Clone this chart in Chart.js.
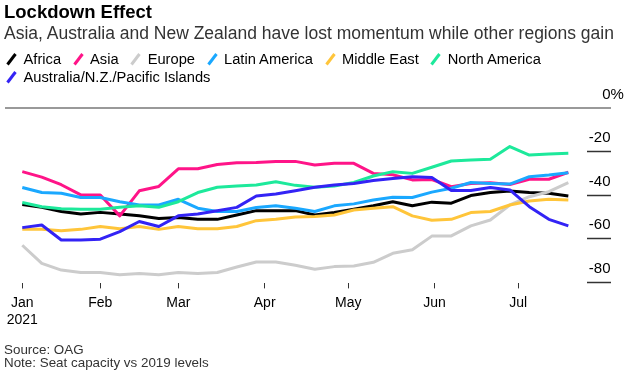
<!DOCTYPE html>
<html><head><meta charset="utf-8">
<script src="https://cdn.jsdelivr.net/npm/chart.js@4"></script>
<style>
html,body{margin:0;padding:0;background:#fff;}
body{width:631px;height:374px;position:relative;overflow:hidden;font-family:'Liberation Sans',Arial,Helvetica,sans-serif;}
#c{position:absolute;left:0;top:0;width:631px;height:374px;}
.t{position:absolute;left:4px;white-space:nowrap;}
#title{top:3.3px;font-size:18.5px;line-height:18.5px;font-weight:bold;color:#000;}
#subtitle{top:24.5px;font-size:17.5px;line-height:17.5px;color:#333;}
#legend{position:absolute;left:6px;top:49.9px;width:620px;display:flex;flex-wrap:wrap;font-size:14.7px;line-height:18px;color:#000;}
.item{display:flex;align-items:center;margin-right:11.5px;white-space:nowrap;}
.item svg{margin-right:6.5px;display:block;}
#footer{top:342.7px;font-size:13.4px;line-height:13.3px;color:#333;}
</style></head>
<body>
<canvas id="c" width="631" height="374"></canvas>
<div id="title" class="t">Lockdown Effect</div>
<div id="subtitle" class="t">Asia, Australia and New Zealand have lost momentum while other regions gain</div>
<div id="legend"></div>
<div id="footer" class="t">Source: OAG<br>Note: Seat capacity vs 2019 levels</div>
<script>
// ---- data ----
const weeks = ['2021-01-04','2021-01-11','2021-01-18','2021-01-25','2021-02-01','2021-02-08','2021-02-15','2021-02-22',
  '2021-03-01','2021-03-08','2021-03-15','2021-03-22','2021-03-29','2021-04-05','2021-04-12','2021-04-19','2021-04-26',
  '2021-05-03','2021-05-10','2021-05-17','2021-05-24','2021-05-31','2021-06-07','2021-06-14','2021-06-21','2021-06-28',
  '2021-07-05','2021-07-12','2021-07-19'];
const seriesNames = ['Africa','Asia','Europe','Latin America','Middle East','North America','Australia/N.Z./Pacific Islands'];
const seriesColors = ['#000000','#ff1488','#cccccc','#1aa8ff','#ffc53a','#1de99b','#3323f5'];
const africa = [-44.3,-45.6,-47.5,-48.6,-47.9,-48.6,-49.5,-50.7,-50.2,-51.1,-51.1,-49.1,-47.1,-47.1,-47.1,-49.1,-48,-46.5,-44.9,-43,-44.9,-43.2,-43.7,-40.2,-38.8,-38.1,-38.8,-39.1,-40.4];
const asia = [-29.2,-31.7,-35.2,-39.9,-39.9,-49.5,-38,-36,-27.9,-27.9,-25.9,-25.1,-25,-24.5,-24.5,-26.2,-25.4,-25.4,-30,-30.6,-33,-32.8,-36.1,-34.6,-34.3,-35.1,-32.7,-32.7,-29.5];
const europe = [-63,-71.3,-74.4,-75.5,-75.5,-76.5,-76,-76.5,-75.5,-76,-75.5,-73,-70.7,-70.7,-72.2,-74,-72.8,-72.5,-70.8,-66.7,-65.1,-58.8,-58.7,-54.1,-51.4,-44.5,-40.7,-38.4,-34.2];
const latinAmerica = [-36.5,-38.8,-39.1,-41.1,-41.1,-43,-44.5,-44.5,-41.9,-46,-47.5,-47.5,-45.7,-44.9,-46,-47.5,-44.9,-44,-42.2,-41,-41.1,-38.6,-36.8,-34.2,-34.6,-34.9,-31.5,-30.7,-29.7];
const middleEast = [-55.7,-55.7,-56.3,-55.7,-54.4,-55.4,-54.4,-55.7,-54.4,-55.4,-55.4,-54.4,-51.7,-51.1,-50,-49.8,-49.1,-46.8,-46,-45.3,-49.5,-51.5,-51.1,-48,-47.5,-44.5,-42.7,-41.9,-42.2];
const northAmerica = [-43.4,-45.3,-46.2,-46.5,-46.5,-45.6,-44.9,-45.6,-43,-38.8,-36.4,-35.8,-35.3,-33.8,-35.5,-36.4,-35.8,-34.2,-31.2,-29.2,-30,-27.2,-24.3,-23.9,-23.5,-17.7,-21.6,-21.1,-20.8];
const australia = [-54.9,-53.7,-60.6,-60.6,-60.2,-56.7,-52.1,-54.4,-49.5,-48.6,-47.2,-45.6,-40.4,-39.5,-38,-36.4,-35.3,-34.6,-33.3,-32.3,-31.5,-31.9,-37.9,-37.9,-36.5,-37.6,-45.3,-51.1,-54.1];
const seriesValues = [africa, asia, europe, latinAmerica, middleEast, northAmerica, australia];
const monthTickDates = ['2021-01-04','2021-02-01','2021-03-01','2021-04-01','2021-05-01','2021-06-01','2021-07-01'];
const monthLabels = [['Jan','2021'],'Feb','Mar','Apr','May','Jun','Jul'];
const yTickValues = [0,-20,-40,-60,-80];
const yTickLabels = ['0','-20','-40','-60','-80'];

// ---- helpers ----
const FONT = "'Liberation Sans', Arial, Helvetica, sans-serif";
function dayNum(s){const p=s.split('-').map(Number);return (Date.UTC(p[0],p[1]-1,p[2])-Date.UTC(2021,0,1))/864e5;}
const tickDays = monthTickDates.map(dayNum);

// legend (HTML)
const leg = document.getElementById('legend');
seriesNames.forEach((n,i)=>{
  const it=document.createElement('div');it.className='item';
  it.innerHTML='<svg width="11" height="14" viewBox="0 0 11 14"><line x1="1.5" y1="12.5" x2="9.5" y2="2" stroke="'+seriesColors[i]+'" stroke-width="3"/></svg>';
  const sp=document.createElement('span');sp.textContent=n;it.appendChild(sp);leg.appendChild(it);
});

const pctPlugin = {id:'pct', afterDraw(chart){
  const y=chart.scales.y, c=chart.ctx;
  c.save(); c.font='15px '+FONT; c.fillStyle='#000'; c.textAlign='left'; c.textBaseline='middle';
  c.fillText('%', y.left+23.5, y.getPixelForValue(0)-13.6); c.restore();
}};

new Chart(document.getElementById('c'), {
  type:'line',
  data:{datasets: seriesNames.map((n,i)=>({
    label:n,
    data: weeks.map((w,j)=>({x:dayNum(w), y:seriesValues[i][j]})),
    borderColor:seriesColors[i], backgroundColor:seriesColors[i],
    borderWidth:3, pointRadius:0, tension:0, fill:false, borderJoinStyle:'round',
    order: seriesNames.length-1-i
  }))},
  options:{
    responsive:false, animation:false, events:[],
    layout:{padding:{left:5, right:20, top:99.3, bottom:40.6}},
    plugins:{legend:{display:false}, tooltip:{enabled:false}, title:{display:false}},
    scales:{
      x:{type:'linear', min:-3.2, max:205.7,
        afterBuildTicks:(s)=>{s.ticks = tickDays.map(v=>({value:v}));},
        afterFit:(s)=>{s.height=50;},
        ticks:{autoSkip:false, maxRotation:0, minRotation:0, padding:6.5, color:'#000',
          font:{family:FONT, size:14, lineHeight:1.19},
          callback:(v,i)=>monthLabels[i]},
        grid:{drawOnChartArea:false, drawTicks:true, tickLength:5, tickColor:'#333', tickWidth:1},
        border:{display:false}},
      y:{type:'linear', position:'right', min:-80.5, max:4,
        afterBuildTicks:(s)=>{s.ticks = yTickValues.map(v=>({value:v}));},
        afterFit:(s)=>{s.width=24;},
        ticks:{mirror:true, padding:23.5, labelOffset:-13.6, color:'#000',
          font:{family:FONT, size:15},
          callback:(v,i)=>yTickLabels[i]},
        grid:{drawTicks:true, tickLength:24,
          color:(c)=> (c.tick && c.tick.value===0) ? '#999999' : 'rgba(0,0,0,0)',
          lineWidth:(c)=> (c.tick && c.tick.value===0) ? 2 : 1,
          tickColor:(c)=> (c.tick && c.tick.value===0) ? '#999999' : '#333333',
          tickWidth:(c)=> (c.tick && c.tick.value===0) ? 2 : 1.5},
        border:{display:false}}
    }
  },
  plugins:[pctPlugin]
});
</script>
</body></html>
